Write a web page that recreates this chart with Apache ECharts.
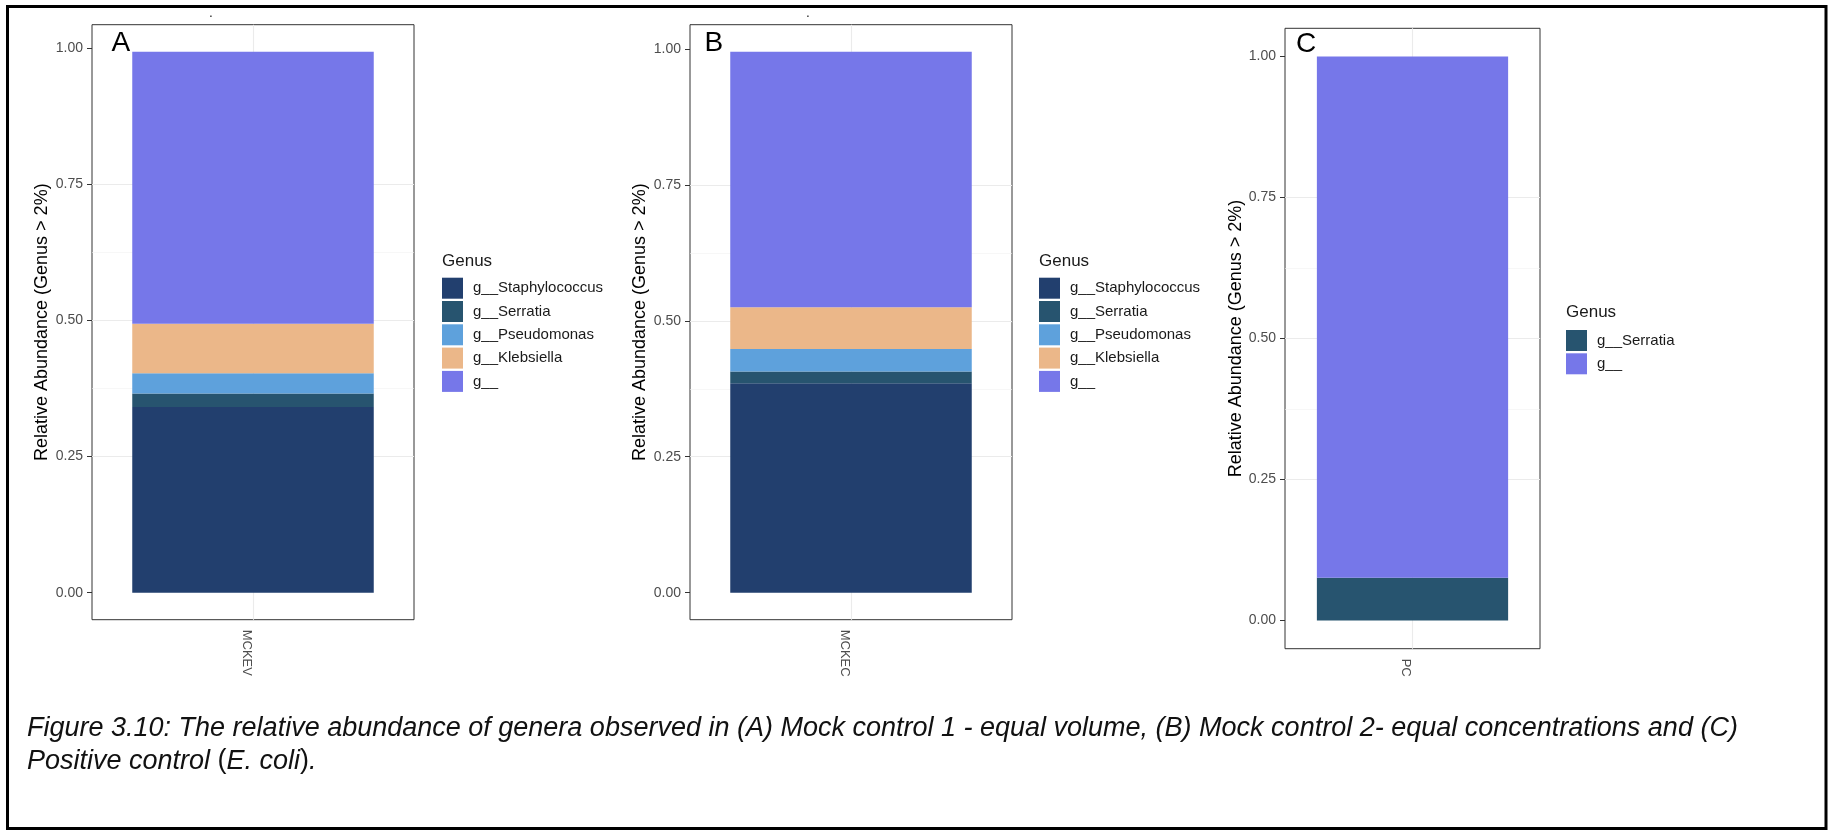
<!DOCTYPE html>
<html>
<head>
<meta charset="utf-8">
<script src="https://cdn.jsdelivr.net/npm/echarts@6/dist/echarts.min.js"></script>
<style>
  html, body { margin: 0; padding: 0; background: #fff; }
  #chart { width: 1839px; height: 835px; }
</style>
</head>
<body>
<div id="chart"></div>
<script>
// genera in legend order (first one sits at the bottom of the stack)
const GENERA = ['g__Staphylococcus', 'g__Serratia', 'g__Pseudomonas', 'g__Klebsiella', 'g__']
const SAMPLES = ['MCKEV', 'MCKEC', 'PC']
const MCKEV_VALUES = [0.341, 0.025, 0.037, 0.091, 0.500]
const MCKEC_VALUES = [0.385, 0.022, 0.041, 0.077, 0.470]
const PC_VALUES = [null, 0.076, null, null, 0.924]
const MAJOR_TICKS = [0, 0.25, 0.5, 0.75, 1]
const MINOR_TICKS = [0.125, 0.375, 0.625, 0.875]
const PANEL_LETTERS = ['A', 'B', 'C']

const GENUS_COLORS = {
  'g__Staphylococcus': '#223f6e', 'g__Serratia': '#27546f', 'g__Pseudomonas': '#5ea1dc',
  'g__Klebsiella': '#ebb789', 'g__': '#7677e9',
}
const FONT = '"Liberation Sans", Arial, sans-serif'

// layout of the three ggplot panels (pixel boxes)
const panels = [
  { values: MCKEV_VALUES, box: { left: 92, top: 24.7, width: 322, height: 595 }, legend: { left: 442, top: 277.7, titleY: 261.5 }, letterX: 111.5, letterY: 43.6, nameGap: 41 },
  { values: MCKEC_VALUES, box: { left: 690, top: 24.7, width: 322, height: 595 }, legend: { left: 1039, top: 277.7, titleY: 261.5 }, letterX: 704.5, letterY: 43.6, nameGap: 41 },
  { values: PC_VALUES, box: { left: 1285, top: 28.3, width: 255, height: 620.4 }, legend: { left: 1566, top: 330, titleY: 312.4 }, letterX: 1296, letterY: 44.3, nameGap: 39 },
]

const chart = echarts.init(document.getElementById('chart'), null, { renderer: 'canvas' })

const grid = [], xAxis = [], yAxis = [], series = [], legend = [], graphic = []

panels.forEach((p, i) => {
  const total = p.values.reduce((s, v) => s + (v || 0), 0)
  const yMin = -0.05 * total, yMax = 1.05 * total

  grid.push({ ...p.box, show: true, borderColor: '#333333', borderWidth: 1, backgroundColor: 'transparent' })

  xAxis.push({
    gridIndex: i, type: 'category', data: [SAMPLES[i]],
    axisLine: { show: false },
    axisTick: { alignWithLabel: true, length: 5, lineStyle: { color: '#333333', width: 1 } },
    axisLabel: { rotate: -90, margin: 10, color: '#4d4d4d', fontSize: 13, fontFamily: FONT, verticalAlign: 'top' },
    splitLine: { show: false },
  })
  xAxis.push({
    gridIndex: i, type: 'value', min: 0, max: 2, interval: 1,
    axisLine: { show: false }, axisTick: { show: false }, axisLabel: { show: false },
    splitLine: { show: true, showMinLine: false, showMaxLine: false, lineStyle: { color: '#ebebeb', width: 1.1 } },
  })

  yAxis.push({
    gridIndex: i, type: 'value', min: yMin, max: yMax,
    name: 'Relative Abundance (Genus > 2%)', nameLocation: 'middle', nameGap: p.nameGap,
    nameTextStyle: { color: '#000', fontSize: 18, fontFamily: FONT },
    axisLine: { show: false },
    axisTick: { show: true, length: 5, customValues: MAJOR_TICKS, lineStyle: { color: '#333333', width: 1 } },
    axisLabel: { customValues: MAJOR_TICKS, formatter: v => v.toFixed(2), color: '#4d4d4d', fontSize: 14, fontFamily: FONT, margin: 9 },
    splitLine: { show: true, showMinLine: false, showMaxLine: false, lineStyle: { color: '#ebebeb', width: 1.1 } },
  })
  yAxis.push({
    gridIndex: i, type: 'value', min: yMin, max: yMax, position: 'left',
    axisLine: { show: false },
    axisTick: { show: false, customValues: MINOR_TICKS },
    axisLabel: { show: false },
    splitLine: { show: true, showMinLine: false, showMaxLine: false, lineStyle: { color: '#f1f1f1', width: 0.6 } },
  })

  const present = []
  GENERA.forEach((g, k) => {
    const v = p.values[k]
    if (v == null) return
    present.push(g)
    series.push({
      type: 'bar', name: g, xAxisIndex: 2 * i, yAxisIndex: 2 * i, stack: 'panel' + i,
      data: [v], barWidth: '75%',
      itemStyle: { color: GENUS_COLORS[g] },
      emphasis: { disabled: true },
    })
  })

  legend.push({
    orient: 'vertical', left: p.legend.left, top: p.legend.top, padding: 0,
    data: present, icon: 'rect', itemWidth: 21, itemHeight: 21, itemGap: 2.3,
    selectedMode: false,
    textStyle: { color: '#1a1a1a', fontSize: 15, fontFamily: FONT, padding: [0, 0, 0, 5] },
  })

  graphic.push({
    type: 'text', x: p.legend.left, y: p.legend.titleY,
    style: { text: 'Genus', fill: '#1a1a1a', font: '17px ' + FONT, verticalAlign: 'middle' },
  })
  graphic.push({
    type: 'text', x: p.letterX, y: p.letterY,
    style: { text: PANEL_LETTERS[i], fill: '#000', font: '28px ' + FONT, verticalAlign: 'middle' },
  })
})

// stray title dots above panels A and B
graphic.push({ type: 'text', x: 211, y: 20, style: { text: '.', fill: '#000', font: '12px ' + FONT, align: 'center', verticalAlign: 'bottom' } })
graphic.push({ type: 'text', x: 808, y: 20, style: { text: '.', fill: '#000', font: '12px ' + FONT, align: 'center', verticalAlign: 'bottom' } })

// figure frame
graphic.push({
  type: 'rect', shape: { x: 7.5, y: 6.5, width: 1818.5, height: 822 },
  style: { fill: 'none', stroke: '#000', lineWidth: 3 }, z: 10,
})

// caption
graphic.push({
  type: 'text', x: 27, y: 728.5,
  style: {
    text: 'Figure 3.10: The relative abundance of genera observed in (A) Mock control 1 - equal volume, (B) Mock control 2- equal concentrations and (C)',
    fill: '#111', font: 'italic 27px ' + FONT, verticalAlign: 'middle',
  },
})
graphic.push({
  type: 'text', x: 27, y: 761,
  style: {
    text: '{i|Positive control }{n|(}{i|E. coli}{n|)}{i|.}',
    fill: '#111', font: 'italic 27px ' + FONT, verticalAlign: 'middle',
    rich: {
      i: { fontStyle: 'italic', fontSize: 27, fontFamily: FONT, fill: '#111' },
      n: { fontStyle: 'normal', fontSize: 27, fontFamily: FONT, fill: '#111' },
    },
  },
})

chart.setOption({
  animation: false,
  backgroundColor: '#fff',
  grid, xAxis, yAxis, series, legend, graphic,
})
</script>
</body>
</html>
